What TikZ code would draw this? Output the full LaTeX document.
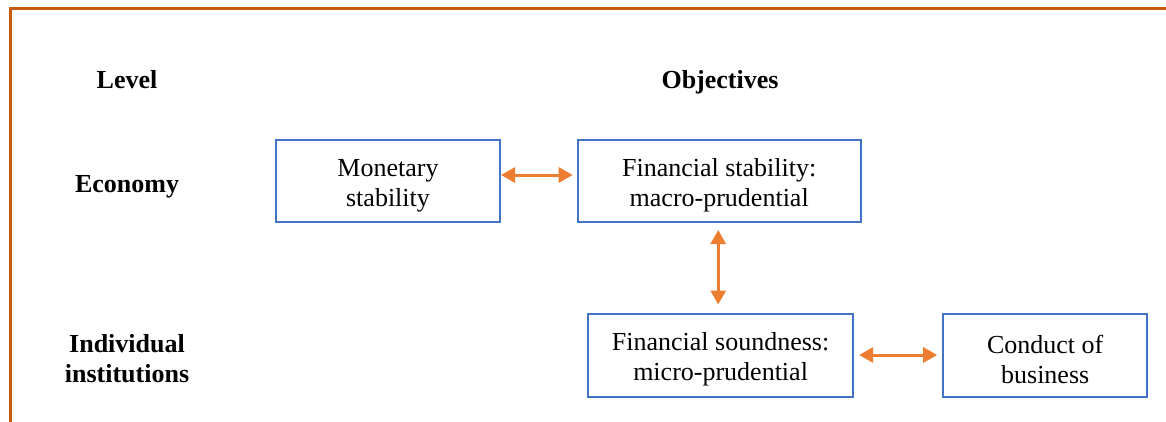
\documentclass[tikz,border=0pt]{standalone}
\usepackage{fontspec}
\setmainfont{Liberation Serif}
\usetikzlibrary{arrows.meta}
\definecolor{frameorange}{HTML}{C55A11}
\definecolor{arroworange}{HTML}{ED7D31}
\definecolor{boxblue}{HTML}{4472C4}
\tikzset{
  objbox/.style={draw=boxblue, line width=2pt, inner sep=0pt},
  boxtext/.style={inner sep=0pt, align=center, yshift=-4.5pt,
    font=\fontsize{26}{30}\selectfont},
  heading/.style={inner sep=0pt, align=center, font=\fontsize{26}{30}\selectfont\bfseries},
  link/.style={draw=arroworange, line width=3pt,
    {Triangle[length=14pt,width=15pt]}-{Triangle[length=14pt,width=15pt]}}
}
\begin{document}
\begin{tikzpicture}[x=1pt,y=-1pt]
\useasboundingbox (0,0) rectangle (1166,421);
% frame
\draw[frameorange, line width=3pt] (1170,8.5) -- (10,8.5) -- (10,425);

% column headings
\node[heading, anchor=base] (lvl) at (127,88) {Level};
\node[heading, anchor=base] (obj) at (720,88) {Objectives};
\node[heading] (eco) at (127,187) {Economy};
\node[heading] (ind) at (127,359) {Individual\\institutions};

% objective boxes
\node[objbox, minimum width=224pt, minimum height=82pt,
  label={[boxtext]center:{Monetary\\stability}}] (mon) at (388,181) {};
\node[objbox, minimum width=283pt, minimum height=82pt,
  label={[boxtext]center:{Financial stability:\\macro-prudential}}] (fin) at (719.2,181) {};
\node[objbox, minimum width=265pt, minimum height=83pt,
  label={[boxtext]center:{Financial soundness:\\micro-prudential}}] (snd) at (720.6,355) {};
\node[objbox, minimum width=204pt, minimum height=83pt,
  label={[boxtext]center:{Conduct of\\business}}] (cob) at (1045.2,355) {};

% links
\draw[link, shorten <=0pt, shorten >=4pt] ([yshift=6pt]mon.east) -- ([yshift=6pt]fin.west);
\draw[link, shorten <=7pt, shorten >=8pt] ([xshift=-1pt]fin.south) -- ([xshift=-1pt]fin.south |- snd.north);
\draw[link, shorten <=5pt, shorten >=5pt] (snd.east) -- (cob.west);
\end{tikzpicture}
\end{document}
